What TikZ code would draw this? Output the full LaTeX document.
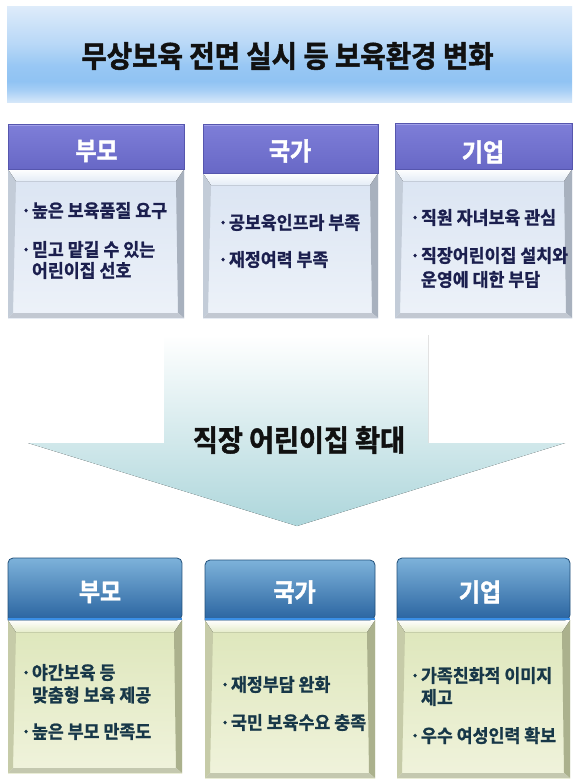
\documentclass[tikz,border=0pt]{standalone}
\usepackage{fontspec}
\setmainfont{Noto Sans CJK KR}
\newfontfamily\krA{Noto Sans CJK KR Bold}[FakeStretch=0.92,FakeBold=1.6]
\newfontfamily\krB{Noto Sans CJK KR Bold}[FakeStretch=0.95,FakeBold=1.2]
\usetikzlibrary{calc}

\definecolor{bannerLight}{HTML}{DDEBFA}
\definecolor{bannerMid}{HTML}{90C3F3}
\pgfdeclareverticalshading{bannershade}{100bp}{%
  color(0bp)=(bannerLight!90!bannerMid); color(25bp)=(bannerLight!90!bannerMid);
  color(31bp)=(bannerMid!70!bannerLight); color(36bp)=(bannerMid);
  color(44bp)=(bannerMid!90!bannerLight); color(55bp)=(bannerMid!50!bannerLight);
  color(75bp)=(bannerLight); color(100bp)=(bannerLight)}
\definecolor{hdrTopA}{HTML}{7E7ED8}
\definecolor{hdrTopB}{HTML}{6868C6}
\definecolor{hdrTopEdge}{HTML}{5656AE}
\definecolor{hdrTopHi}{HTML}{A0A0E8}
\definecolor{faceTopA}{HTML}{DAE4F2}
\definecolor{faceTopB}{HTML}{EDF2F9}
\definecolor{bandTop}{HTML}{E4ECF6}
\definecolor{sideTopL}{HTML}{C3CCD8}
\definecolor{sideTopR}{HTML}{A8B1BE}
\definecolor{hdrBotA}{HTML}{7DB2DA}
\definecolor{hdrBotB}{HTML}{2A64A0}
\definecolor{hdrBotEdge}{HTML}{22507A}
\definecolor{hdrBotLine}{HTML}{3A8FE6}
\definecolor{faceBotA}{HTML}{DDE6BA}
\definecolor{faceBotB}{HTML}{F0F3DC}
\definecolor{bandBot}{HTML}{E6ECCB}
\definecolor{sideBotL}{HTML}{C6CBA8}
\definecolor{sideBotR}{HTML}{ABB18D}
\definecolor{txtTop}{HTML}{1B1F4E}
\definecolor{txtBot}{HTML}{173748}
\definecolor{arrowB}{HTML}{ADD6DB}
\definecolor{titleTxt}{HTML}{111111}

\tikzset{
  banner/.style={rectangle, inner sep=0pt, outer sep=0pt, shading=bannershade},
  hdrtop/.style={rectangle, inner sep=0pt, outer sep=0pt, draw=hdrTopEdge, line width=0.8pt, top color=hdrTopA, bottom color=hdrTopB},
  hdrbot/.style={rectangle, inner sep=0pt, outer sep=0pt},
  hdrbotfill/.style={draw=hdrBotEdge, line width=0.8pt, top color=hdrBotA, bottom color=hdrBotB, rounded corners=5pt},
  bodytop/.style={rectangle, inner sep=0pt, outer sep=0pt, top color=faceTopA, bottom color=faceTopB},
  bodybot/.style={rectangle, inner sep=0pt, outer sep=0pt, top color=faceBotA, bottom color=faceBotB},
  titletxt/.style={inner sep=0pt, text=titleTxt, font=\krA\fontsize{30}{30}\selectfont},
  arrowtxt/.style={inner sep=0pt, text=titleTxt, font=\krA\fontsize{29.5}{29.5}\selectfont},
  hdrlabel/.style={inner sep=0pt, text=white, font=\krA\fontsize{25}{25}\selectfont},
  linetop/.style={anchor=west, inner sep=0pt, outer sep=0pt, text=txtTop, font=\krB\fontsize{18.2}{18.2}\selectfont},
  linebot/.style={anchor=west, inner sep=0pt, outer sep=0pt, text=txtBot, font=\krB\fontsize{18.2}{18.2}\selectfont},
}
\newcommand\bul{\makebox[11pt][l]{·}}
\newcommand\ind{\makebox[11pt]{}}
% bevel decoration of a body node: #1 name, #2 band colour, #3 left side, #4 right side
\newcommand\bevel[4]{%
  \fill[#3] (#1.north west) -- ([xshift=8pt,yshift=-12pt]#1.north west) -- ([xshift=5pt,yshift=5pt]#1.south west) -- (#1.south west) -- cycle;
  \fill[#4] (#1.north east) -- (#1.south east) -- ([xshift=-6pt,yshift=5pt]#1.south east) -- ([xshift=-8pt,yshift=-12pt]#1.north east) -- cycle;
  \fill[#4!70!white] (#1.south west) -- ([xshift=5pt,yshift=5pt]#1.south west) -- ([xshift=-6pt,yshift=5pt]#1.south east) -- (#1.south east) -- cycle;
  \fill[top color=white, bottom color=#2] (#1.north west) -- (#1.north east) -- ([xshift=-8pt,yshift=-12pt]#1.north east) -- ([xshift=8pt,yshift=-12pt]#1.north west) -- cycle;
}

\begin{document}
\begin{tikzpicture}[x=1pt,y=-1pt]
\useasboundingbox (0,0) rectangle (580,784);
\fill[white] (0,0) rectangle (580,784);

% title banner
\node[banner, minimum width=565pt, minimum height=95pt] (banner) at (289.5,54.5) {};
\node[titletxt] (title) at (287.5,56) {무상보육 전면 실시 등 보육환경 변화};

% ---------- top row ----------
\node[bodytop, minimum width=176pt, minimum height=149pt] (tb1) at (96,243.5) {};
\node[bodytop, minimum width=175pt, minimum height=145pt] (tb2) at (290.5,245.5) {};
\node[bodytop, minimum width=177pt, minimum height=149pt] (tb3) at (483.5,243.5) {};
\bevel{tb1}{bandTop}{sideTopL}{sideTopR}
\bevel{tb2}{bandTop}{sideTopL}{sideTopR}
\bevel{tb3}{bandTop}{sideTopL}{sideTopR}

\node[hdrtop, minimum width=176pt, minimum height=45pt] (th1) at (96,146.5) {};
\node[hdrtop, minimum width=175pt, minimum height=49pt] (th2) at (290.5,148.5) {};
\node[hdrtop, minimum width=177pt, minimum height=46pt] (th3) at (483.5,146) {};
\foreach \h in {th1,th2,th3}{
  \draw[hdrTopHi, line width=1pt] ([xshift=1pt,yshift=-1pt]\h.north west) -- ([xshift=-1pt,yshift=-1pt]\h.north east);
}
\node[hdrlabel] (thl1) at (96.5,151) {부모};
\node[hdrlabel] (thl2) at (290,151) {국가};
\node[hdrlabel] (thl3) at (483,152) {기업};

\node[linetop] (t11) at (21,210.5) {\bul 높은 보육품질 요구};
\node[linetop] (t12) at (21,249.5) {\bul 믿고 맡길 수 있는};
\node[linetop] (t13) at (21,270.5) {\ind 어린이집 선호};
\node[linetop] (t21) at (218,222.5) {\bul 공보육인프라 부족};
\node[linetop] (t22) at (218,259.5) {\bul 재정여력 부족};
\node[linetop] (t31) at (410,217.5) {\bul 직원 자녀보육 관심};
\node[linetop] (t32) at (410,255.5) {\bul 직장어린이집 설치와};
\node[linetop] (t33) at (410,279.5) {\ind 운영에 대한 부담};

% ---------- arrow ----------
\fill[top color=white, bottom color=arrowB] (164,335) -- (428,335) -- (428,443) -- (565,443) -- (297,526) -- (28,443) -- (164,443) -- cycle;
\node[arrowtxt] (arrowtext) at (299,440) {직장 어린이집 확대};

% ---------- bottom row ----------
\node[bodybot, minimum width=174pt, minimum height=153pt] (bb1) at (95,696.5) {};
\node[bodybot, minimum width=170pt, minimum height=158pt] (bb2) at (290,699) {};
\node[bodybot, minimum width=173pt, minimum height=158pt] (bb3) at (483.5,699) {};
\bevel{bb1}{bandBot}{sideBotL}{sideBotR}
\bevel{bb2}{bandBot}{sideBotL}{sideBotR}
\bevel{bb3}{bandBot}{sideBotL}{sideBotR}

\node[hdrbot, minimum width=174pt, minimum height=62pt] (bh1) at (95,589) {};
\node[hdrbot, minimum width=170pt, minimum height=60pt] (bh2) at (290,590) {};
\node[hdrbot, minimum width=173pt, minimum height=62pt] (bh3) at (483.5,589) {};
\foreach \h in {bh1,bh2,bh3}{
  \path[hdrbotfill] (\h.south west) |- (\h.north) -| (\h.south east) [sharp corners] -- cycle;
  \draw[hdrBotLine, line width=2pt] ([yshift=1pt]\h.south west) -- ([yshift=1pt]\h.south east);
}
\node[hdrlabel] (bhl1) at (100,592) {부모};
\node[hdrlabel] (bhl2) at (294.5,592) {국가};
\node[hdrlabel] (bhl3) at (480,592) {기업};

\node[linebot] (b11) at (21,672.5) {\bul 야간보육 등};
\node[linebot] (b12) at (21,695) {\ind 맞춤형 보육 제공};
\node[linebot] (b13) at (21,731.5) {\bul 높은 부모 만족도};
\node[linebot] (b21) at (220,684.5) {\bul 재정부담 완화};
\node[linebot] (b22) at (220,722.5) {\bul 국민 보육수요 충족};
\node[linebot] (b31) at (410,675.5) {\bul 가족친화적 이미지};
\node[linebot] (b32) at (410,697.5) {\ind 제고};
\node[linebot] (b33) at (410,735.5) {\bul 우수 여성인력 확보};
\end{tikzpicture}
\end{document}
